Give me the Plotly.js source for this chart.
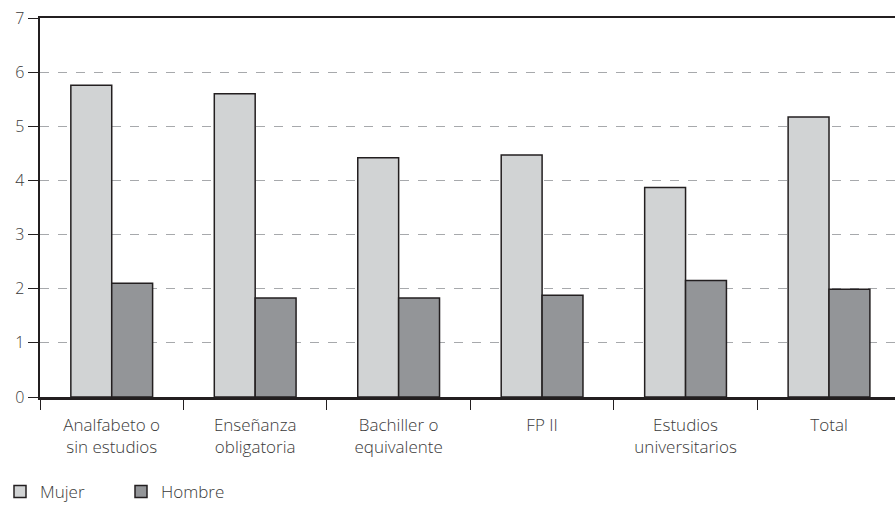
<!DOCTYPE html>
<html><head><meta charset="utf-8">
<script src="https://cdn.plot.ly/plotly-3.0.1.min.js"></script>
<style>body{margin:0}</style></head>
<body><div id="chart" style="width:895px;height:505px"></div>
<script>
const categories = ["Analfabeto o<br>sin estudios","Enseñanza<br>obligatoria","Bachiller o<br>equivalente","FP II","Estudios<br>universitarios","Total"];
const mujer = [5.76, 5.60, 4.42, 4.47, 3.87, 5.17];
const hombre = [2.10, 1.83, 1.83, 1.88, 2.15, 1.99];
const yTicks = [0,1,2,3,4,5,6,7];

const tf = {family: "Open Sans, sans-serif", size: 16, color: "#3a3a3a", weight: 300};
const xf = {family: "Open Sans, sans-serif", size: 17, color: "#3a3a3a", weight: 300};
const traces = [
  {type:"bar", name:"Mujer", x:categories, y:mujer,
   marker:{color:"#d1d3d4", line:{color:"#231f20", width:1.5}}},
  {type:"bar", name:"Hombre", x:categories, y:hombre,
   marker:{color:"#939598", line:{color:"#231f20", width:1.5}}}
];
const layout = {
  width:895, height:505,
  margin:{l:40, r:0, t:18, b:108, pad:0, autoexpand:false},
  paper_bgcolor:"#fff", plot_bgcolor:"#fff",
  font: tf,
  barmode:"group", bargap:0.43, bargroupgap:0,
  showlegend:true,
  legend:{orientation:"h", x:0.0, xref:"container", xanchor:"left", y:0.026, yref:"container", yanchor:"middle",
          font:{family:"Open Sans, sans-serif", size:17, color:"#3a3a3a", weight:300}, itemwidth:30,
          entrywidth:76, entrywidthmode:"pixels", traceorder:"normal"},
  xaxis:{type:"category", range:[-0.5, 5.46], showline:true, linecolor:"#231f20", linewidth:2.5,
         mirror:true, ticks:"outside", tickson:"boundaries", ticklen:10, tickcolor:"#231f20", tickwidth:1,
         ticklabelstandoff:11, automargin:false,
         showgrid:false, tickfont:xf},
  yaxis:{range:[0,7], tickvals:yTicks, showline:true, linecolor:"#231f20", linewidth:2.5,
         ticks:"outside", ticklen:10, tickcolor:"#231f20", tickwidth:1, automargin:false,
         showgrid:true, gridcolor:"#a7a9ac", griddash:"dash", gridwidth:1, zeroline:false,
         tickfont:tf}
};
Plotly.newPlot("chart", traces, layout, {displayModeBar:false, staticPlot:true});
</script></body></html>
